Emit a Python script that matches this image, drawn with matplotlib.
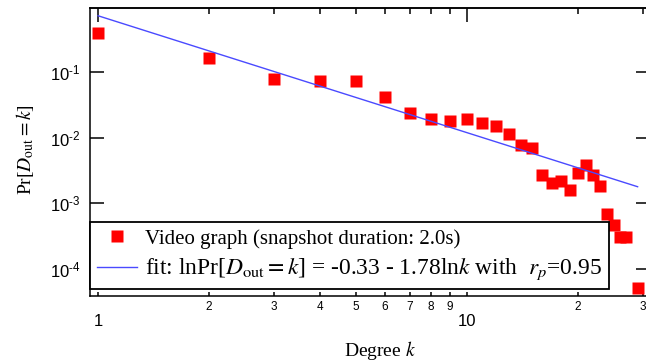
import matplotlib
matplotlib.use('Agg')
import matplotlib.pyplot as plt
from matplotlib.ticker import LogLocator, FuncFormatter, NullLocator, FixedLocator
import numpy as np

plt.rcParams['font.family'] = 'Liberation Sans'
plt.rcParams['mathtext.fontset'] = 'stix'
plt.rcParams['axes.unicode_minus'] = False

# degree distribution
degree = [1, 2, 3, 4, 5, 6, 7, 8, 9, 10, 11, 12, 13, 14, 15, 16, 17, 18, 19,
          20, 21, 22, 23, 24, 25, 26, 27, 29]
prob = [0.39, 0.163, 0.077, 0.073, 0.073, 0.042, 0.024, 0.019, 0.018, 0.019,
        0.017, 0.015, 0.0114, 0.0077, 0.0069, 0.0027, 0.00204, 0.0022, 0.00159,
        0.0029, 0.00385, 0.0027, 0.00184, 0.00069, 0.00047, 0.00031, 0.00031,
        5.2e-5]

# fitted power law, end points
fit_k = [1, 29]
fit_p = [0.719, 0.00179]

data_label = 'Video graph (snapshot duration: 2.0s)'
fit_label = r'fit: lnPr[$D_{\rm out} = k$] = -0.33 - 1.78ln$k$ with  $r_p$=0.95'

serif = 'Liberation Serif'

fig = plt.figure(figsize=(6.46, 3.62), dpi=100)
ax = fig.add_axes([90/646, 1-296/362, (650-90)/646, (296-8)/362])

ax.set_xscale('log')
ax.set_yscale('log')

ax.plot(degree, prob, 's', color='#ff0000', ms=8.0, mec='none', label=data_label)
ax.plot(fit_k, fit_p, '-', color='#4a4aff', lw=1.0, label=fit_label)

ax.set_xlim(0.9513, 31.33)
ax.set_ylim(3.88e-5, 0.943)

for s in ax.spines.values():
    s.set_linewidth(1.1)

# y axis
ax.yaxis.set_major_locator(FixedLocator([1e-4, 1e-3, 1e-2, 1e-1]))
ax.yaxis.set_minor_locator(NullLocator())
ax.yaxis.set_major_formatter(FuncFormatter(
    lambda v, p: r'$\mathdefault{10^{\text{-}%d}}$' % int(round(-np.log10(v)))))
ax.tick_params(axis='y', which='major', direction='in', length=10, width=1.1,
               left=True, right=True, labelsize=12, pad=7)

# x axis: bottom short ticks with labels, top longer ticks
ax.xaxis.set_major_locator(FixedLocator([1, 10]))
ax.xaxis.set_minor_locator(LogLocator(base=10, subs=np.arange(2, 10)))
ax.xaxis.set_major_formatter(FuncFormatter(lambda v, p: '%d' % round(v)))
ax.xaxis.set_minor_formatter(FuncFormatter(
    lambda v, p: '%d' % round(v / 10 ** np.floor(np.log10(v) + 1e-9))))
ax.tick_params(axis='x', which='major', direction='in', length=3, width=1.1,
               top=False, labelsize=12, pad=13)
ax.tick_params(axis='x', which='minor', direction='in', length=3, width=1.1,
               top=False, labelsize=8.5, pad=3.5)

top = ax.secondary_xaxis('top')
top.xaxis.set_major_locator(FixedLocator([1, 10]))
top.xaxis.set_minor_locator(LogLocator(base=10, subs=np.arange(2, 10)))
top.tick_params(which='major', direction='in', length=10, width=1.1, labeltop=False)
top.tick_params(which='minor', direction='in', length=4, width=1.1, labeltop=False)
top.spines['top'].set_linewidth(1.1)

ax.set_xlabel(r'Degree $k$', fontsize=14, family=serif)
ax.xaxis.set_label_coords((380-90)/560, -(350-296)/288)
ax.xaxis.label.set_va('center')
ax.set_ylabel(r'Pr[$D_{\rm out} = k$]', fontsize=14, family=serif)
ax.yaxis.set_label_coords(-(90-25)/560, (296-150)/288)
ax.yaxis.label.set_va('center')

leg = ax.legend(loc='lower left', bbox_to_anchor=(0, 7/288), borderaxespad=0,
                prop={'family': serif, 'size': 15}, fancybox=False,
                edgecolor='black', framealpha=1, handlelength=1.92,
                handletextpad=0.42, borderpad=0.32, labelspacing=0.4,
                numpoints=1)
leg.get_frame().set_linewidth(1.3)
leg.get_texts()[1].set_fontsize(16.9)

fig.savefig('out.png', dpi=100)
